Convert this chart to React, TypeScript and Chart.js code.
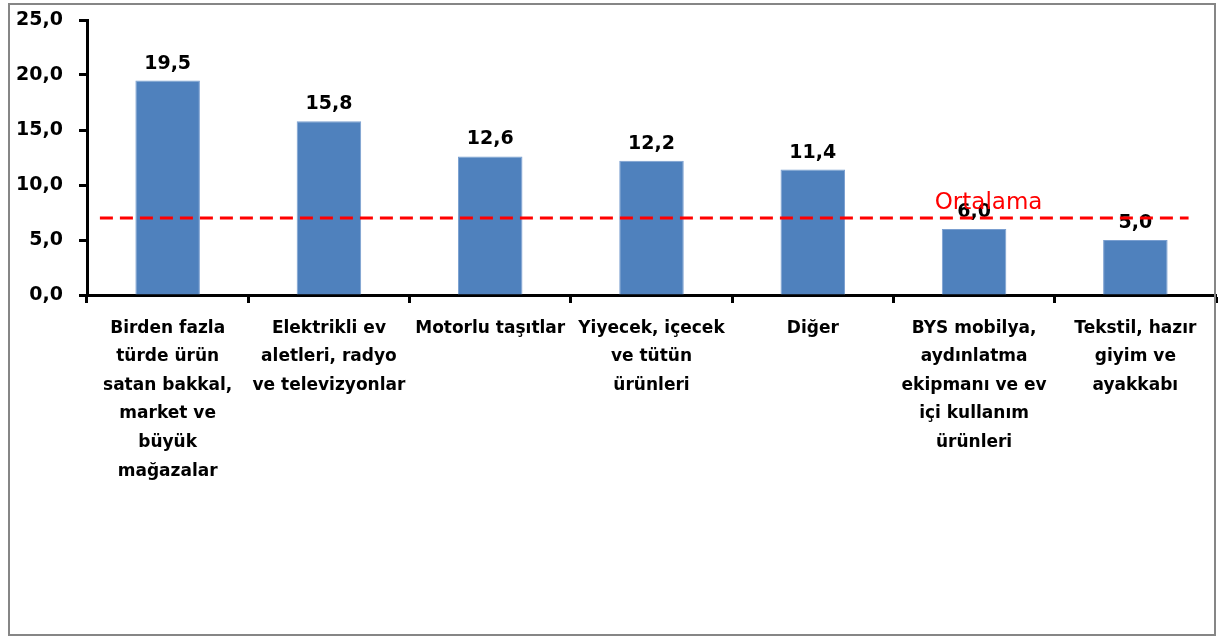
import React, { useEffect, useRef } from "react";
import { Chart, registerables } from "chart.js";

Chart.register(...registerables);

const categories: string[][] = [
  ["Birden fazla", "türde ürün", "satan bakkal,", "market ve", "büyük", "mağazalar"],
  ["Elektrikli ev", "aletleri, radyo", "ve televizyonlar"],
  ["Motorlu taşıtlar"],
  ["Yiyecek, içecek", "ve tütün", "ürünleri"],
  ["Diğer"],
  ["BYS mobilya,", "aydınlatma", "ekipmanı ve ev", "içi kullanım", "ürünleri"],
  ["Tekstil, hazır", "giyim ve", "ayakkabı"],
];
const values: number[] = [19.5, 15.8, 12.6, 12.2, 11.4, 6.0, 5.0];
const averageValue = 7.0;
const averageLabel = "Ortalama";
const yTicks: number[] = [0, 5, 10, 15, 20, 25];

const FONT = "'DejaVu Sans', sans-serif";
const fmt = (v: number) => v.toFixed(1).replace(".", ",");

export default function App() {
  const ref = useRef<HTMLCanvasElement | null>(null);

  useEffect(() => {
    if (!ref.current) return;

    const overlay = {
      id: "overlay",
      afterDatasetsDraw(chart: any) {
        const ctx = chart.ctx;
        const meta = chart.getDatasetMeta(0);
        ctx.save();
        ctx.fillStyle = "#000";
        ctx.font = `bold 19px ${FONT}`;
        ctx.textAlign = "center";
        ctx.textBaseline = "alphabetic";
        meta.data.forEach((bar: any, i: number) => {
          ctx.fillText(fmt(values[i]), bar.x, bar.y - 12);
        });
        // average line
        const xs = chart.scales.x;
        const ys = chart.scales.y;
        const y = ys.getPixelForValue(averageValue);
        const x0 = xs.getPixelForValue(-0.42);
        const x1 = xs.getPixelForValue(6.33);
        ctx.strokeStyle = "#FF0000";
        ctx.lineWidth = 3;
        ctx.setLineDash([13, 7]);
        ctx.beginPath();
        ctx.moveTo(x0, y);
        ctx.lineTo(x1, y);
        ctx.stroke();
        ctx.setLineDash([]);
        ctx.fillStyle = "#FF0000";
        ctx.font = `23px ${FONT}`;
        ctx.fillText(averageLabel, xs.getPixelForValue(5.09), y - 9);
        ctx.restore();
      },
      afterDraw(chart: any) {
        const ctx = chart.ctx;
        ctx.save();
        ctx.strokeStyle = "#868686";
        ctx.lineWidth = 2;
        ctx.strokeRect(9, 4, 1206, 631);
        ctx.restore();
      },
    };

    const chart = new Chart(ref.current, {
      type: "bar",
      data: {
        labels: categories as any,
        datasets: [
          {
            data: values,
            backgroundColor: "#4F81BD",
            borderColor: "#7A9FD0",
            borderWidth: 1,
            barPercentage: 0.4,
            categoryPercentage: 1,
          },
        ],
      },
      options: {
        animation: false,
        responsive: false,
        maintainAspectRatio: false,
        layout: { padding: { left: 0, right: 7, top: 0, bottom: 0 } },
        plugins: { legend: { display: false }, tooltip: { enabled: false } },
        scales: {
          x: {
            offset: true,
            grid: {
              offset: true,
              drawOnChartArea: false,
              drawTicks: true,
              tickLength: 8,
              tickWidth: 3,
              tickColor: "#000",
            },
            border: { display: true, color: "#000", width: 3 },
            ticks: {
              autoSkip: false,
              maxRotation: 0,
              minRotation: 0,
              color: "#000",
              padding: 11,
              font: { family: FONT, size: 17, weight: "bold", lineHeight: 1.68 },
            },
            afterFit(scale: any) {
              scale.height = 342;
            },
          },
          y: {
            min: 0,
            max: 25,
            afterBuildTicks(scale: any) {
              scale.ticks = yTicks.map((v) => ({ value: v }));
            },
            grid: {
              drawOnChartArea: false,
              drawTicks: true,
              tickLength: 8,
              tickWidth: 3,
              tickColor: "#000",
            },
            border: { display: true, color: "#000", width: 3 },
            ticks: {
              color: "#000",
              padding: 16,
              font: { family: FONT, size: 19, weight: "bold" },
              callback: (v: any) => fmt(Number(v)),
            },
            afterFit(scale: any) {
              scale.width = 87;
              scale.paddingTop = 20;
              scale.paddingBottom = 10;
            },
          },
        },
      },
      plugins: [overlay],
    });
    return () => chart.destroy();
  }, []);

  return (
    <div style={{ position: "fixed", left: 0, top: 0, width: 1223, height: 637, background: "#fff" }}>
      <canvas ref={ref} width={1223} height={637} style={{ display: "block" }} />
    </div>
  );
}
